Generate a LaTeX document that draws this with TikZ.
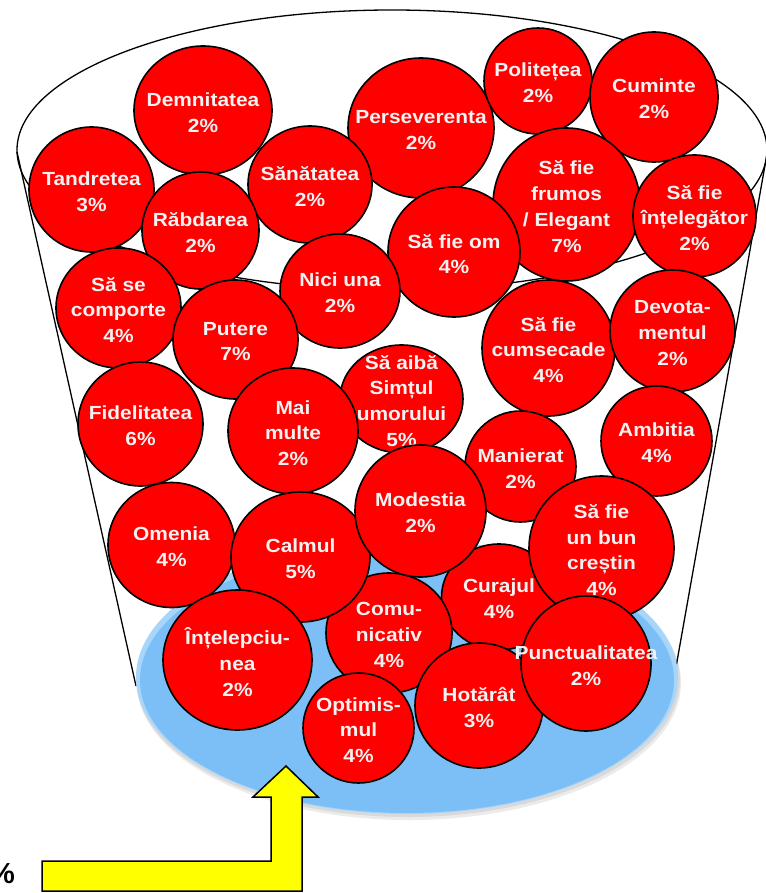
\documentclass[tikz,border=0pt]{standalone}
\usepackage{fontspec}
\setmainfont{Liberation Sans}
\newfontfamily\bubblefont{Liberation Sans}[FakeStretch=1.1]
\usetikzlibrary{shapes.geometric}

\definecolor{bubblered}{RGB}{255,0,0}
\definecolor{bubbletext}{RGB}{242,242,242}
\definecolor{plateblue}{RGB}{124,190,246}
\definecolor{platerim}{RGB}{168,214,250}
\definecolor{arrowyellow}{RGB}{255,255,0}

\tikzset{
  bubble/.style={ellipse, draw=black, line width=1.6pt, fill=bubblered, inner sep=0pt},
  btext/.style={align=center, text=bubbletext, inner sep=0pt, yshift=-2pt,
    font=\bubblefont\bfseries\fontsize{19}{25.8}\selectfont},
}

\begin{document}
\begin{tikzpicture}[x=1pt, y=-1pt]
\useasboundingbox (0,0) rectangle (765,893);

% the bucket
\draw[line width=1.3pt] (392,150) ellipse [x radius=375, y radius=140];
\coordinate (rimL) at (17,152);
\coordinate (rimR) at (767,154);
\coordinate (baseL) at (136,686);
\coordinate (baseR) at (673,684);
\draw[line width=1.3pt] (rimL) -- (baseL);
\draw[line width=1.3pt] (rimR) -- (baseR);

% the plate at the bottom
\fill[black, opacity=0.08] (409,683) ellipse [x radius=272, y radius=137];
\fill[black, opacity=0.08] (408,680) ellipse [x radius=272, y radius=137];
\fill[platerim] (407,677) ellipse [x radius=271, y radius=137];
\fill[plateblue] (407,680) ellipse [x radius=267, y radius=133];

% the bubbles
\node[bubble, minimum width=138pt, minimum height=129pt] (demn) at (203,110.5) {};
\node[btext] at (demn) {Demnitatea\\2\%};
\node[bubble, minimum width=125pt, minimum height=125pt] (tand) at (91.5,189.5) {};
\node[btext] at (tand) {Tandretea\\3\%};
\node[bubble, minimum width=146pt, minimum height=140pt] (pers) at (421,128) {};
\node[btext] at (pers) {Perseverenta\\2\%};
\node[bubble, minimum width=108pt, minimum height=106pt] (poli) at (538,81) {};
\node[btext] at (poli) {Politețea\\2\%};
\node[bubble, minimum width=128pt, minimum height=130pt] (cumi) at (654,97) {};
\node[btext] at (cumi) {Cuminte\\2\%};
\node[bubble, minimum width=124pt, minimum height=117pt] (sana) at (310,184.5) {};
\node[btext] at (sana) {Sănătatea\\2\%};
\node[bubble, minimum width=117pt, minimum height=117pt] (rabd) at (200.5,230.5) {};
\node[btext] at (rabd) {Răbdarea\\2\%};
\node[bubble, minimum width=147pt, minimum height=153pt] (frum) at (566.5,204.5) {};
\node[btext] at (frum) {Să fie\\frumos\\/ Elegant\\7\%};
\node[bubble, minimum width=132pt, minimum height=130pt] (om) at (454,252) {};
\node[btext] at (om) {Să fie om\\4\%};
\node[bubble, minimum width=123pt, minimum height=122pt] (intel) at (694.5,216) {};
\node[btext] at (intel) {Să fie\\înțelegător\\2\%};
\node[bubble, minimum width=120pt, minimum height=114pt] (nici) at (340,291) {};
\node[btext] at (nici) {Nici una\\2\%};
\node[bubble, minimum width=125pt, minimum height=120pt] (comp) at (118.5,308) {};
\node[btext] at (comp) {Să se\\comporte\\4\%};
\node[bubble, minimum width=125pt, minimum height=119pt] (pute) at (235.5,339.5) {};
\node[btext] at (pute) {Putere\\7\%};
\node[bubble, minimum width=133pt, minimum height=136pt] (cums) at (548.5,348) {};
\node[btext] at (cums) {Să fie\\cumsecade\\4\%};
\node[bubble, minimum width=125pt, minimum height=122pt] (devo) at (672.5,331) {};
\node[btext] at (devo) {Devota-\\mentul\\2\%};
\node[bubble, minimum width=123pt, minimum height=108pt] (simt) at (401.5,399) {};
\node[btext] at (simt) {Să aibă\\Simțul\\umorului\\5\%};
\node[bubble, minimum width=125pt, minimum height=124pt] (fide) at (140.5,424) {};
\node[btext] at (fide) {Fidelitatea\\6\%};
\node[bubble, minimum width=130pt, minimum height=126pt] (mai) at (293,431) {};
\node[btext] at (mai) {Mai\\multe\\2\%};
\node[bubble, minimum width=111pt, minimum height=110pt] (ambi) at (656.5,441) {};
\node[btext] at (ambi) {Ambitia\\4\%};
\node[bubble, minimum width=111pt, minimum height=111pt] (mani) at (520.5,466.5) {};
\node[btext] at (mani) {Manierat\\2\%};
\node[bubble, minimum width=115pt, minimum height=106pt] (cura) at (499,597) {};
\node[btext] at (cura) {Curajul\\4\%};
\node[bubble, minimum width=126pt, minimum height=120pt] (comu) at (389,633) {};
\node[btext] at (comu) {Comu-\\nicativ\\4\%};
\node[bubble, minimum width=127pt, minimum height=125pt] (omen) at (171.5,545) {};
\node[btext] at (omen) {Omenia\\4\%};
\node[bubble, minimum width=139pt, minimum height=130pt] (calm) at (300.5,557) {};
\node[btext] at (calm) {Calmul\\5\%};
\node[bubble, minimum width=131pt, minimum height=132pt] (mode) at (420.5,511) {};
\node[btext] at (mode) {Modestia\\2\%};
\node[bubble, minimum width=145pt, minimum height=144pt] (bun) at (601.5,548) {};
\node[btext] at (bun) {Să fie\\un bun\\creștin\\4\%};
\node[bubble, minimum width=149pt, minimum height=140pt] (intp) at (237.5,660) {};
\node[btext] at (intp) {Înțelepciu-\\nea\\2\%};
\node[bubble, minimum width=128pt, minimum height=125pt] (hota) at (479,705.5) {};
\node[btext] at (hota) {Hotărât\\3\%};
\node[bubble, minimum width=111pt, minimum height=110pt] (opti) at (358.5,728) {};
\node[btext] at (opti) {Optimis-\\mul\\4\%};
\node[bubble, minimum width=130pt, minimum height=135pt] (punc) at (586,663.5) {};
\node[btext] at (punc) {Punctualitatea\\2\%};

% the yellow arrow
\draw[line width=1.5pt, fill=arrowyellow] (42,861) -- (271,861) -- (271,797) -- (253,797)
  -- (286,766) -- (318,797) -- (302,797) -- (302,891) -- (42,891) -- cycle;
\node[anchor=base east, inner sep=0pt, font=\bfseries\fontsize{29}{30}\selectfont] (pct) at (15,883) {\%};
\end{tikzpicture}
\end{document}
